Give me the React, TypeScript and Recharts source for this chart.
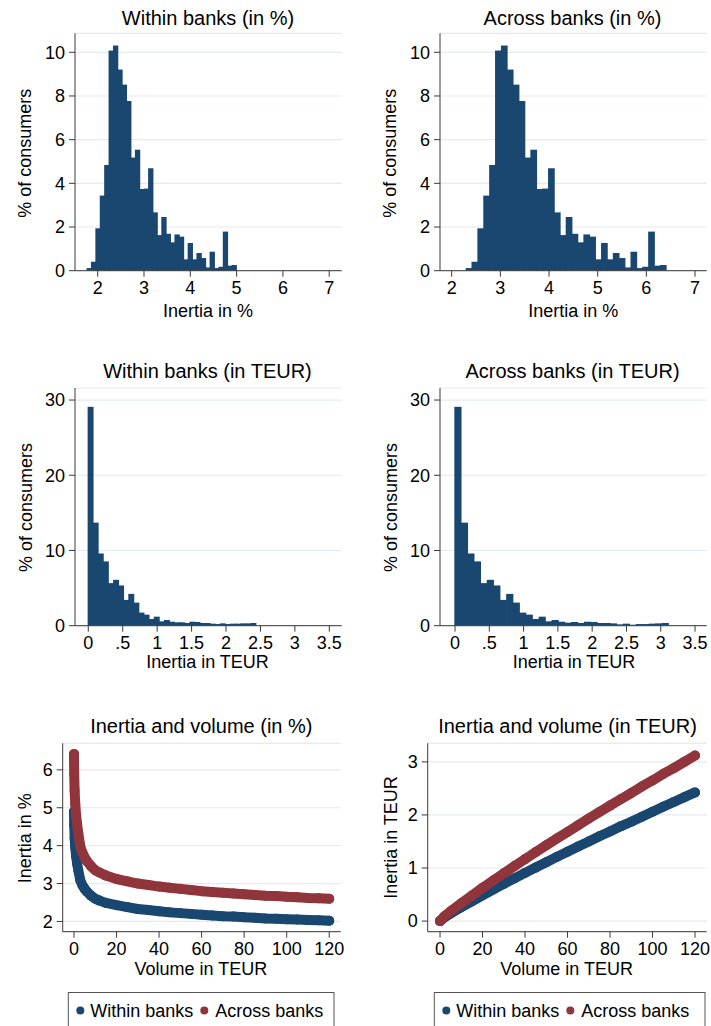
import React from 'react'
import { BarChart, Bar, XAxis, YAxis, CartesianGrid, ScatterChart, Scatter } from 'recharts'

const NAVY = '#1a476f'
const MAROON = '#90353b'
const GRID = '#e3ebee'
const AXIS = '#3a3a3a'
const FONT = '"Liberation Sans", Arial, Helvetica, sans-serif'

// histogram bins (centres) and shares, % of consumers
const withinPctBins = [1.822, 1.917, 2.012, 2.107, 2.202, 2.297, 2.392, 2.486, 2.581, 2.676, 2.771, 2.866, 2.961, 3.056, 3.151, 3.246, 3.341, 3.436, 3.53, 3.625, 3.72, 3.815, 3.91, 4.005, 4.1, 4.195, 4.29, 4.385, 4.479, 4.574, 4.669, 4.764, 4.859, 4.954]
const withinPctShare = [0.12, 0.41, 1.94, 3.44, 4.84, 10.08, 10.31, 9.21, 8.52, 7.77, 5.18, 5.54, 3.74, 3.76, 4.69, 2.67, 1.63, 2.46, 1.69, 1.3, 1.66, 1.56, 0.52, 1.27, 0.52, 0.81, 0.58, 0.15, 0.87, 0.12, 0.18, 1.79, 0.23, 0.26]

const acrossPctBins = [2.361, 2.482, 2.603, 2.724, 2.845, 2.966, 3.087, 3.208, 3.329, 3.45, 3.571, 3.692, 3.813, 3.934, 4.055, 4.176, 4.297, 4.418, 4.539, 4.66, 4.781, 4.902, 5.023, 5.144, 5.265, 5.386, 5.507, 5.628, 5.749, 5.87, 5.991, 6.112, 6.233, 6.354]
const acrossPctShare = [0.12, 0.41, 1.94, 3.44, 4.84, 10.08, 10.31, 9.21, 8.52, 7.77, 5.18, 5.54, 3.74, 3.76, 4.69, 2.67, 1.63, 2.46, 1.69, 1.3, 1.66, 1.56, 0.52, 1.27, 0.52, 0.81, 0.58, 0.15, 0.87, 0.12, 0.18, 1.79, 0.23, 0.26]

const withinEurBins = [0.037, 0.111, 0.185, 0.259, 0.333, 0.407, 0.48, 0.554, 0.628, 0.702, 0.776, 0.85, 0.924, 0.998, 1.072, 1.146, 1.219, 1.293, 1.367, 1.441, 1.515, 1.589, 1.663, 1.737, 1.811, 1.885, 1.958, 2.032, 2.106, 2.18, 2.254, 2.328, 2.402]
const withinEurShare = [29.1, 13.7, 9.6, 8.55, 5.66, 6.1, 5.35, 3.43, 4.23, 3.07, 1.74, 1.47, 0.89, 1.2, 0.58, 0.76, 0.53, 0.45, 0.45, 0.36, 0.53, 0.49, 0.36, 0.36, 0.27, 0.22, 0.31, 0.22, 0.27, 0.27, 0.31, 0.31, 0.36]

const acrossEurBins = [0.047, 0.142, 0.236, 0.331, 0.425, 0.52, 0.614, 0.709, 0.803, 0.898, 0.992, 1.087, 1.181, 1.276, 1.37, 1.465, 1.559, 1.654, 1.748, 1.843, 1.937, 2.032, 2.126, 2.221, 2.315, 2.41, 2.504, 2.599, 2.693, 2.788, 2.882, 2.977, 3.071]
const acrossEurShare = [29.1, 13.7, 9.6, 8.55, 5.66, 6.1, 5.35, 3.43, 4.23, 3.07, 1.74, 1.47, 0.89, 1.2, 0.58, 0.76, 0.53, 0.4, 0.49, 0.36, 0.53, 0.49, 0.36, 0.36, 0.31, 0.18, 0.27, 0.13, 0.22, 0.22, 0.27, 0.31, 0.36]

// inertia vs volume
const volumePct = [0, 0.1, 0.3, 0.6, 1, 1.5, 2, 3, 4, 5, 6, 8, 10, 12, 15, 20, 25, 30, 35, 40, 45, 50, 55, 60, 65, 70, 75, 80, 85, 90, 95, 100, 105, 110, 115, 120]
const withinPctLine = [4.9, 4.55, 4.2, 3.95, 3.72, 3.52, 3.36, 3.08, 2.95, 2.86, 2.79, 2.68, 2.6, 2.55, 2.49, 2.43, 2.38, 2.33, 2.3, 2.27, 2.24, 2.22, 2.2, 2.18, 2.16, 2.14, 2.13, 2.11, 2.1, 2.08, 2.07, 2.06, 2.05, 2.04, 2.03, 2.02]
const acrossPctLine = [6.42, 5.9, 5.45, 5.1, 4.8, 4.55, 4.34, 3.97, 3.81, 3.69, 3.6, 3.46, 3.35, 3.29, 3.21, 3.12, 3.06, 3.0, 2.96, 2.92, 2.89, 2.86, 2.83, 2.8, 2.78, 2.76, 2.74, 2.72, 2.7, 2.68, 2.67, 2.65, 2.64, 2.62, 2.61, 2.6]

const volumeEur = [0, 2, 5, 10, 15, 20, 25, 30, 35, 40, 45, 50, 55, 60, 65, 70, 75, 80, 85, 90, 95, 100, 105, 110, 115, 120]
const withinEurLine = [0, 0.068, 0.143, 0.26, 0.373, 0.486, 0.595, 0.7, 0.805, 0.908, 1.008, 1.11, 1.21, 1.308, 1.404, 1.498, 1.598, 1.688, 1.785, 1.872, 1.967, 2.06, 2.153, 2.244, 2.335, 2.424]
const acrossEurLine = [0, 0.087, 0.185, 0.335, 0.48, 0.626, 0.765, 0.9, 1.036, 1.168, 1.3, 1.43, 1.556, 1.68, 1.807, 1.932, 2.055, 2.176, 2.295, 2.412, 2.537, 2.65, 2.772, 2.882, 3.0, 3.12]

const pctTicks = [2, 3, 4, 5, 6, 7]
const shareTicksPct = [0, 2, 4, 6, 8, 10]
const eurTicks = [0, 0.5, 1, 1.5, 2, 2.5, 3, 3.5]
const shareTicksEur = [0, 10, 20, 30]
const volumeTicks = [0, 20, 40, 60, 80, 100, 120]

const zip = (xs: number[], ys: number[]) => xs.map((x, i) => ({ x, y: ys[i] }))
const dropZero = (v: number) => String(v).replace(/^0\./, '.')

type Box = { left: number; top: number; width: number; height: number; px0: number; px1: number; py0: number; py1: number }

const tickStyle = { fontSize: 18, fill: '#000', fontFamily: FONT }

// bars drawn a hair wider so neighbouring bins merge like a stata histogram
const binShape = (p: any) => (
  <rect x={p.x - 0.7} y={p.y} width={Math.max(p.width + 1.4, 0)} height={Math.max(p.height, 0)} fill={NAVY} />
)

function Histogram({ box, bins, shares, xDomain, xTicks, yDomain, yTicks, fmt }: any) {
  const b: Box = box
  // bar width in px = bin width in data units times px per unit
  const binWidth = (bins[bins.length - 1] - bins[0]) / (bins.length - 1)
  const barSize = (binWidth * (b.px1 - b.px0)) / (xDomain[1] - xDomain[0])
  return (
    <div style={{ position: 'absolute', left: b.left, top: b.top }}>
      <BarChart
        width={b.width}
        height={b.height}
        data={zip(bins, shares)}
        margin={{ top: b.py0 - b.top, right: b.left + b.width - b.px1, bottom: 0, left: 0 }}
        barCategoryGap={0}
        barGap={0}
      >
        <CartesianGrid vertical={false} stroke={GRID} strokeWidth={1.2} />
        <XAxis
          dataKey="x"
          type="number"
          domain={xDomain}
          ticks={xTicks}
          interval={0}
          allowDataOverflow
          height={b.top + b.height - b.py1}
          tickSize={6}
          tickMargin={5}
          tick={tickStyle}
          axisLine={{ stroke: AXIS }}
          tickLine={{ stroke: AXIS }}
          tickFormatter={fmt}
        />
        <YAxis
          type="number"
          domain={yDomain}
          ticks={yTicks}
          interval={0}
          allowDataOverflow
          width={b.px0 - b.left}
          tickSize={6}
          tickMargin={4}
          tick={tickStyle}
          axisLine={{ stroke: AXIS }}
          tickLine={{ stroke: AXIS }}
        />
        <Bar dataKey="y" barSize={barSize} fill={NAVY} shape={binShape} isAnimationActive={false} />
      </BarChart>
    </div>
  )
}

const dot = (color: string) => (props: any) => <circle cx={props.cx} cy={props.cy} r={5} fill={color} />

function VolumePlot({ box, within, across, xDomain, yDomain, yTicks }: any) {
  const b: Box = box
  return (
    <div style={{ position: 'absolute', left: b.left, top: b.top }}>
      <ScatterChart
        width={b.width}
        height={b.height}
        margin={{ top: b.py0 - b.top, right: b.left + b.width - b.px1, bottom: 0, left: 0 }}
      >
        <CartesianGrid vertical={false} stroke={GRID} strokeWidth={1.2} />
        <XAxis
          dataKey="x"
          type="number"
          domain={xDomain}
          ticks={volumeTicks}
          interval={0}
          allowDataOverflow
          height={b.top + b.height - b.py1}
          tickSize={6}
          tickMargin={5}
          tick={tickStyle}
          axisLine={{ stroke: AXIS }}
          tickLine={{ stroke: AXIS }}
        />
        <YAxis
          dataKey="y"
          type="number"
          domain={yDomain}
          ticks={yTicks}
          interval={0}
          allowDataOverflow
          width={b.px0 - b.left}
          tickSize={6}
          tickMargin={4}
          tick={tickStyle}
          axisLine={{ stroke: AXIS }}
          tickLine={{ stroke: AXIS }}
        />
        <Scatter
          data={within}
          fill={NAVY}
          shape={dot(NAVY)}
          line={{ stroke: NAVY, strokeWidth: 10, strokeLinecap: 'round', strokeLinejoin: 'round' }}
          lineType="joint"
          isAnimationActive={false}
        />
        <Scatter
          data={across}
          fill={MAROON}
          shape={dot(MAROON)}
          line={{ stroke: MAROON, strokeWidth: 10, strokeLinecap: 'round', strokeLinejoin: 'round' }}
          lineType="joint"
          isAnimationActive={false}
        />
      </ScatterChart>
    </div>
  )
}

const titles = [
  { t: 'Within banks (in %)', x: 208, y: 25 },
  { t: 'Across banks (in %)', x: 572.5, y: 25 },
  { t: 'Within banks (in TEUR)', x: 207.5, y: 378 },
  { t: 'Across banks (in TEUR)', x: 572.5, y: 378 },
  { t: 'Inertia and volume (in %)', x: 201.3, y: 733 },
  { t: 'Inertia and volume (in TEUR)', x: 567.5, y: 733 },
]

const xTitles = [
  { t: 'Inertia in %', x: 208, y: 316.5 },
  { t: 'Inertia in %', x: 573.3, y: 316.5 },
  { t: 'Inertia in TEUR', x: 207.5, y: 668 },
  { t: 'Inertia in TEUR', x: 574, y: 668 },
  { t: 'Volume in TEUR', x: 200.8, y: 975 },
  { t: 'Volume in TEUR', x: 566.7, y: 975 },
]

const yTitles = [
  { t: '% of consumers', x: 31.5, y: 153.3 },
  { t: '% of consumers', x: 396.5, y: 153.3 },
  { t: '% of consumers', x: 31.5, y: 507.5 },
  { t: '% of consumers', x: 396.5, y: 507.5 },
  { t: 'Inertia in %', x: 31.5, y: 838.3 },
  { t: 'Inertia in TEUR', x: 396.5, y: 837.5 },
]

function LegendBox({ x0, x1 }: { x0: number; x1: number }) {
  return (
    <g>
      <rect x={x0} y={992.5} width={x1 - x0} height={60} fill="#fff" stroke="#555" strokeWidth={1} />
      <circle cx={x0 + 12} cy={1010.5} r={4} fill={NAVY} />
      <text x={x0 + 22} y={1016.7} fontSize={18}>Within banks</text>
      <circle cx={x0 + 136} cy={1010.5} r={4} fill={MAROON} />
      <text x={x0 + 147} y={1016.7} fontSize={18}>Across banks</text>
    </g>
  )
}

export default function App() {
  return (
    <div style={{ position: 'absolute', left: 0, top: 0, width: 711, height: 1026, background: '#fff', fontFamily: FONT, overflow: 'hidden' }}>
      <Histogram
        box={{ left: 0, top: 0, width: 350, height: 300, px0: 75, px1: 341.7, py0: 33.3, py1: 270.7 }}
        bins={withinPctBins}
        shares={withinPctShare}
        xDomain={[1.51, 7.27]}
        xTicks={pctTicks}
        yDomain={[0, 10.87]}
        yTicks={shareTicksPct}
      />
      <Histogram
        box={{ left: 360, top: 0, width: 351, height: 300, px0: 440, px1: 706.7, py0: 33.3, py1: 270.7 }}
        bins={acrossPctBins}
        shares={acrossPctShare}
        xDomain={[1.76, 7.24]}
        xTicks={pctTicks}
        yDomain={[0, 10.87]}
        yTicks={shareTicksPct}
      />
      <Histogram
        box={{ left: 0, top: 355, width: 350, height: 300, px0: 75, px1: 341.7, py0: 388, py1: 625.7 }}
        bins={withinEurBins}
        shares={withinEurShare}
        xDomain={[-0.193, 3.68]}
        xTicks={eurTicks}
        yDomain={[0, 31.6]}
        yTicks={shareTicksEur}
        fmt={dropZero}
      />
      <Histogram
        box={{ left: 360, top: 355, width: 351, height: 300, px0: 440, px1: 706.7, py0: 388, py1: 625.7 }}
        bins={acrossEurBins}
        shares={acrossEurShare}
        xDomain={[-0.219, 3.67]}
        xTicks={eurTicks}
        yDomain={[0, 31.6]}
        yTicks={shareTicksEur}
        fmt={dropZero}
      />
      <VolumePlot
        box={{ left: 0, top: 710, width: 350, height: 250, px0: 62.7, px1: 340.7, py0: 743.3, py1: 931.7 }}
        within={zip(volumePct, withinPctLine)}
        across={zip(volumePct, acrossPctLine)}
        xDomain={[-5.3, 125.4]}
        yDomain={[1.73, 6.7]}
        yTicks={[2, 3, 4, 5, 6]}
      />
      <VolumePlot
        box={{ left: 360, top: 710, width: 351, height: 250, px0: 427.7, px1: 706.7, py0: 743.3, py1: 931.7 }}
        within={zip(volumeEur, withinEurLine)}
        across={zip(volumeEur, acrossEurLine)}
        xDomain={[-5.8, 125.5]}
        yDomain={[-0.2, 3.35]}
        yTicks={[0, 1, 2, 3]}
      />
      <svg width={711} height={1026} style={{ position: 'absolute', left: 0, top: 0, pointerEvents: 'none', fontFamily: FONT }}>
        {titles.map((d, i) => (
          <text key={'t' + i} x={d.x} y={d.y} fontSize={20} textAnchor="middle" fill="#000">{d.t}</text>
        ))}
        {xTitles.map((d, i) => (
          <text key={'x' + i} x={d.x} y={d.y} fontSize={18} textAnchor="middle" fill="#000">{d.t}</text>
        ))}
        {yTitles.map((d, i) => (
          <text key={'y' + i} x={d.x} y={d.y} fontSize={18} textAnchor="middle" fill="#000" transform={`rotate(-90 ${d.x} ${d.y})`}>{d.t}</text>
        ))}
        <LegendBox x0={68.3} x1={334} />
        <LegendBox x0={434.3} x1={705} />
      </svg>
    </div>
  )
}
